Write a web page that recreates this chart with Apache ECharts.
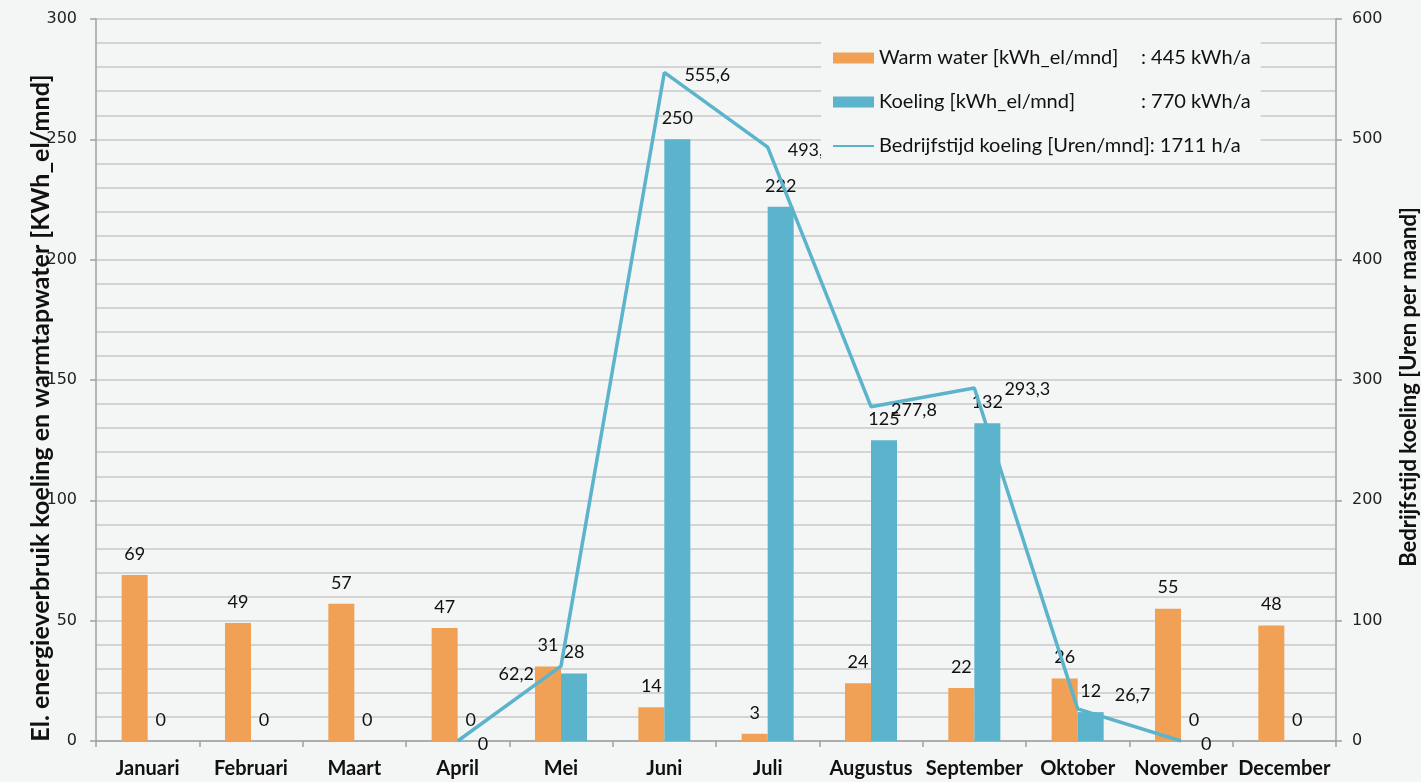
<!DOCTYPE html>
<html>
<head>
<meta charset="utf-8">
<script src="https://cdn.jsdelivr.net/npm/echarts@6/dist/echarts.min.js"></script>
<style>
html,body{margin:0;padding:0;background:#f4f5f5;}
#chart{width:1421px;height:782px;}
</style>
</head>
<body>
<div id="chart"></div>
<script>
const months = ['Januari','Februari','Maart','April','Mei','Juni','Juli','Augustus','September','Oktober','November','December'];
const warmWater = [69,49,57,47,31,14,3,24,22,26,55,48];
const koeling = [0,0,0,0,28,250,222,125,132,12,0,0];
const bedrijfstijd = [null,null,null,0,62.2,555.6,493.5,277.8,293.3,26.7,0,null];
const legendNames = ['Warm water [kWh_el/mnd]','Koeling [kWh_el/mnd]','Bedrijfstijd koeling [Uren/mnd]'];
const legendTotals = [': 445 kWh/a',': 770 kWh/a',': 1711 h/a'];
const leftTitle = 'El. energieverbruik koeling en warmtapwater [KWh_el/mnd]';
const rightTitle = 'Bedrijfstijd koeling [Uren per maand]';
const leftTicks = [0,50,100,150,200,250,300];
const rightTicks = [0,100,200,300,400,500,600];

const ORANGE = '#F0A156';
const BLUE = '#5BB4CB';
const FONT = 'Lato';

// label placement tweaks for line labels (style only)
const lineLabelStyle = {
  4: {position:'left', distance:27, offset:[0,8]},
  8: {offset:[30,1]},
  9: {offset:[37,-14]}
};

const lineData = bedrijfstijd.map((v,i)=>{
  const item = {value:v};
  if (lineLabelStyle[i]) item.label = Object.assign({}, lineLabelStyle[i]);
  return item;
});

const fmtComma = v => (v===null||v===undefined)?'':String(v).replace('.',',');

const chart = echarts.init(document.getElementById('chart'));
chart.setOption({
  backgroundColor:'#f4f5f5',
  animation:false,
  grid:{left:96,right:85,top:19,bottom:41},
  graphic:[{
    type:'text', x:41, y:408, rotation:Math.PI/2, z:20,
    style:{text:leftTitle, fontFamily:FONT, fontWeight:'bold', fontSize:25, fill:'#111', align:'center', verticalAlign:'middle'}
  },{
    type:'text', x:1409, y:387, rotation:Math.PI/2, z:20,
    style:{text:rightTitle, fontFamily:FONT, fontWeight:'bold', fontSize:22, fill:'#111', align:'center', verticalAlign:'middle'}
  }],
  legend:{
    orient:'vertical',
    left:821, top:42,
    padding:[6,10,6,11],
    itemGap:24,
    itemWidth:41, itemHeight:11,
    backgroundColor:'#f4f5f5',
    z:10,
    data:legendNames.map((n,i)=> i===2 ? {name:n, itemStyle:{opacity:0}} : {name:n, icon:'rect'}),
    formatter: name => {
      const i = legendNames.indexOf(name);
      return i===2 ? '{c|'+name+'}{b|'+legendTotals[i]+'}' : '{a|'+name+'}{b|'+legendTotals[i]+'}';
    },
    textStyle:{
      fontFamily:FONT, fontSize:20, color:'#111',
      rich:{
        a:{fontFamily:FONT, fontSize:20, color:'#111', width:262},
        b:{fontFamily:FONT, fontSize:20, color:'#111'},
        c:{fontFamily:FONT, fontSize:20, color:'#111'}
      }
    }
  },
  xAxis:{
    type:'category',
    data:months,
    axisLine:{lineStyle:{color:'#a0a0a0',width:1.5}},
    axisTick:{show:true,length:6,lineStyle:{color:'#a0a0a0',width:1.5}},
    axisLabel:{interval:0,fontFamily:FONT,fontWeight:'bold',fontSize:20,color:'#111',margin:18}
  },
  yAxis:[{
    type:'value',
    min:0,max:300,interval:50,
    axisLine:{show:true,lineStyle:{color:'#a0a0a0',width:1.5}},
    axisTick:{show:true,length:6,lineStyle:{color:'#a0a0a0',width:1.5}},
    axisLabel:{fontFamily:'DejaVu Sans',fontSize:16,color:'#222',margin:19,
      formatter: v => leftTicks.includes(v) ? String(v) : ''},
    splitLine:{show:true,lineStyle:{color:'#c9c9c9',width:1.5}},
    minorTick:{show:false,splitNumber:5},
    minorSplitLine:{show:true,lineStyle:{color:'#c9c9c9',width:1.5}}
  },{
    type:'value',
    min:0,max:600,interval:100,
    axisLine:{show:true,lineStyle:{color:'#a0a0a0',width:1.5}},
    axisTick:{show:true,length:6,lineStyle:{color:'#a0a0a0',width:1.5}},
    axisLabel:{fontFamily:'DejaVu Sans',fontSize:16,color:'#222',margin:16,
      formatter: v => rightTicks.includes(v) ? String(v) : ''},
    splitLine:{show:false}
  }],
  series:[{
    name:legendNames[0],
    type:'bar',
    data:warmWater,
    barWidth:26,
    barGap:'0%',
    itemStyle:{color:ORANGE},
    label:{show:true,position:'top',distance:12,fontFamily:FONT,fontSize:18,color:'#111'}
  },{
    name:legendNames[1],
    type:'bar',
    data:koeling,
    barWidth:26,
    barGap:'0%',
    itemStyle:{color:BLUE},
    label:{show:true,position:'top',distance:12,fontFamily:FONT,fontSize:18,color:'#111'}
  },{
    name:legendNames[2],
    type:'line',
    yAxisIndex:1,
    data:lineData,
    symbol:'circle',
    symbolSize:0.1,
    showSymbol:true,
    lineStyle:{color:BLUE,width:3.5},
    itemStyle:{color:BLUE},
    z:3,
    label:{show:true,position:'right',distance:0,offset:[20,3],fontFamily:FONT,fontSize:18,color:'#111',
      formatter: p => fmtComma(p.value)}
  }]
});
</script>
</body>
</html>
